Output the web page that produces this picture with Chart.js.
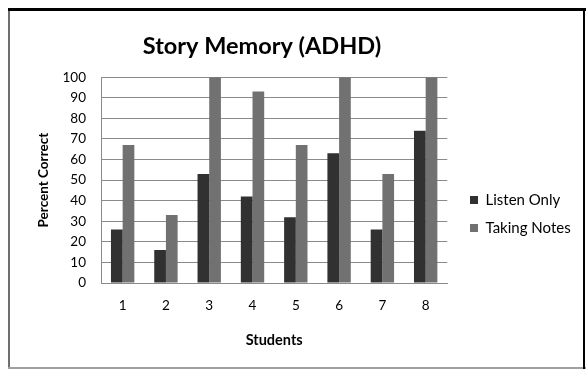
<!DOCTYPE html>
<html>
<head>
<meta charset="utf-8">
<script src="https://cdn.jsdelivr.net/npm/chart.js@4/dist/chart.umd.min.js"></script>
<style>
  html, body { margin: 0; padding: 0; background: #ffffff; }
  #wrap { position: relative; width: 587px; height: 371px; }
</style>
</head>
<body>
<div id="wrap"><canvas id="chart" width="587" height="371"></canvas></div>
<script>
// Students on the x axis
const students = ['1', '2', '3', '4', '5', '6', '7', '8'];
// Percent correct per student
const listenOnly = [26, 16, 53, 42, 32, 63, 26, 74];
const takingNotes = [67, 33, 100, 93, 67, 100, 53, 100];

const FONT = 'Lato, "Open Sans", sans-serif';

// Where the title and legend sit on the page
const TITLE_CENTER_X = 262;
const LEGEND_BOX_X = 470;
const LEGEND_CENTER_Y = 214;

// White background plus the outer frame around the whole chart
const framePlugin = {
  id: 'frame',
  beforeDraw(chart) {
    const ctx = chart.ctx;
    ctx.save();
    ctx.fillStyle = '#ffffff';
    ctx.fillRect(0, 0, chart.width, chart.height);
    ctx.restore();
  },
  afterDraw(chart) {
    const ctx = chart.ctx;
    ctx.save();
    ctx.fillStyle = '#6f6f6f';
    ctx.fillRect(8, 8, 2, 361);
    ctx.fillStyle = '#a0a0a0';
    ctx.fillRect(8, 367, 578, 2);
    ctx.fillStyle = '#000000';
    ctx.fillRect(8, 8, 578, 3);
    ctx.fillRect(583, 8, 2, 361);
    ctx.restore();
  }
};

// Nudge the title and legend blocks once the layout is known
const placeBlocks = {
  id: 'placeBlocks',
  afterLayout(chart) {
    const t = chart.titleBlock;
    if (t) {
      const dx = TITLE_CENTER_X - (t.left + t.right) / 2;
      t.left += dx; t.right += dx;
    }
    const lg = chart.legend;
    if (lg) {
      const pad = lg.options.labels.padding;
      const dx = LEGEND_BOX_X - (lg.left + pad);
      const dy = LEGEND_CENTER_Y - (lg.top + lg.bottom) / 2;
      lg.left += dx; lg.right += dx;
      lg.top += dy; lg.bottom += dy;
    }
  }
};

new Chart(document.getElementById('chart'), {
  type: 'bar',
  data: {
    labels: students,
    datasets: [
      {
        label: 'Listen Only',
        data: listenOnly,
        backgroundColor: '#313131',
        categoryPercentage: 0.54,
        barPercentage: 1.0
      },
      {
        label: 'Taking Notes',
        data: takingNotes,
        backgroundColor: '#717171',
        categoryPercentage: 0.54,
        barPercentage: 1.0
      }
    ]
  },
  options: {
    responsive: false,
    animation: false,
    layout: { padding: { left: 36, right: 16, top: 14, bottom: 20 } },
    plugins: {
      title: {
        display: true,
        text: 'Story Memory (ADHD)',
        color: '#000000',
        font: { family: FONT, size: 23.5, weight: 'bold' },
        padding: { top: 18, bottom: 17 }
      },
      legend: {
        position: 'right',
        align: 'center',
        labels: {
          color: '#000000',
          boxWidth: 8,
          boxHeight: 8,
          padding: 13,
          font: { family: FONT, size: 15 }
        }
      },
      tooltip: { enabled: false }
    },
    scales: {
      x: {
        afterFit(scale) { scale.height = 68; },
        grid: { display: false, drawTicks: false },
        border: { display: true, color: '#8a8a8a', width: 1 },
        ticks: {
          color: '#000000',
          padding: 15,
          font: { family: FONT, size: 13.5 }
        },
        title: {
          display: true,
          text: 'Students',
          color: '#000000',
          font: { family: FONT, size: 14.5, weight: 'bold' },
          padding: { top: 0, bottom: 2 }
        }
      },
      y: {
        min: 0,
        max: 100,
        afterFit(scale) { scale.width = 65; },
        ticks: {
          stepSize: 10,
          color: '#000000',
          padding: 15,
          font: { family: FONT, size: 13.5 }
        },
        grid: { color: '#8a8a8a', lineWidth: 1, drawTicks: false },
        border: { display: true, color: '#8a8a8a', width: 1 },
        title: {
          display: true,
          text: 'Percent Correct',
          color: '#000000',
          font: { family: FONT, size: 13.5, weight: 'bold' },
          padding: { top: 0, bottom: 0 }
        }
      }
    }
  },
  plugins: [framePlugin, placeBlocks]
});
</script>
</body>
</html>
